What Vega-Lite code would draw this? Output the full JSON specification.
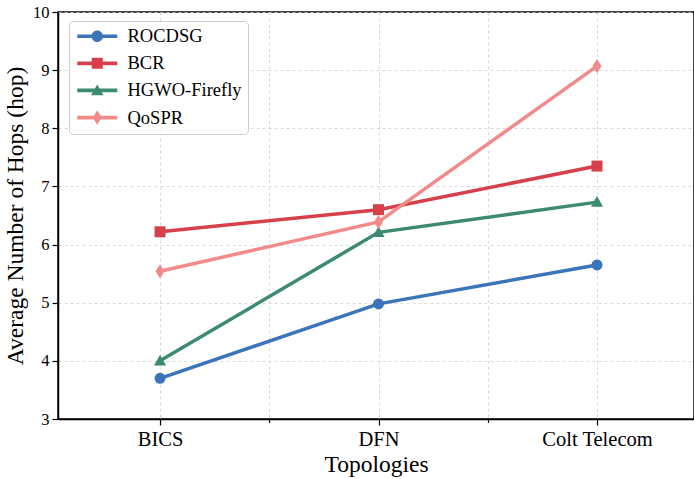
{
  "$schema": "https://vega.github.io/schema/vega-lite/v6.json",
  "width": 636,
  "height": 407,
  "autosize": {"type": "none"},
  "padding": {"left": 58, "top": 12, "right": 0, "bottom": 60},
  "background": "white",
  "config": {
    "font": "Liberation Serif",
    "view": {"stroke": "black", "strokeWidth": 1.5},
    "axis": {
      "domainColor": "black", "domainWidth": 1.5,
      "tickColor": "black", "tickWidth": 1.2,
      "labelColor": "black", "titleColor": "black", "titleFontWeight": "normal",
      "gridColor": "#d0d0d0", "gridDash": [3, 3], "gridWidth": 0.8,
      "labelFont": "Liberation Serif", "titleFont": "Liberation Serif"
    },
    "legend": {
      "labelFont": "Liberation Serif", "labelFontSize": 18.5, "labelColor": "black",
      "padding": 6, "rowPadding": 8.1, "symbolOffset": 13, "labelOffset": 21,
      "strokeColor": "#cccccc", "fillColor": "rgba(255,255,255,0.85)", "cornerRadius": 4,
      "symbolStrokeWidth": 0, "symbolSize": 100
    }
  },
  "data": {
    "values": [
      {"method": "ROCDSG", "topology": "BICS", "idx": 0, "hops": 3.70},
      {"method": "ROCDSG", "topology": "DFN", "idx": 1, "hops": 4.98},
      {"method": "ROCDSG", "topology": "Colt Telecom", "idx": 2, "hops": 5.65},
      {"method": "BCR", "topology": "BICS", "idx": 0, "hops": 6.22},
      {"method": "BCR", "topology": "DFN", "idx": 1, "hops": 6.60},
      {"method": "BCR", "topology": "Colt Telecom", "idx": 2, "hops": 7.35},
      {"method": "HGWO-Firefly", "topology": "BICS", "idx": 0, "hops": 4.00},
      {"method": "HGWO-Firefly", "topology": "DFN", "idx": 1, "hops": 6.21},
      {"method": "HGWO-Firefly", "topology": "Colt Telecom", "idx": 2, "hops": 6.73},
      {"method": "QoSPR", "topology": "BICS", "idx": 0, "hops": 5.54},
      {"method": "QoSPR", "topology": "DFN", "idx": 1, "hops": 6.39},
      {"method": "QoSPR", "topology": "Colt Telecom", "idx": 2, "hops": 9.07}
    ]
  },
  "layer": [
    {
      "mark": {"type": "line", "strokeWidth": 3.5},
      "encoding": {
        "x": {
          "field": "idx", "type": "quantitative",
          "scale": {"domain": [-0.467, 2.444], "nice": false, "zero": false},
          "axis": {
            "values": [0, 0.5, 1, 1.5, 2],
            "labelExpr": "datum.value == 0 ? 'BICS' : datum.value == 1 ? 'DFN' : datum.value == 2 ? 'Colt Telecom' : ''",
            "tickSize": {"expr": "datum.value % 1 == 0 ? 6 : 3.5"},
            "labelFont": "Liberation Serif", "labelFontSize": 20.5, "labelPadding": 4,
            "title": "Topologies", "titleFontSize": 23.5, "titlePadding": 3,
            "grid": true
          }
        },
        "y": {
          "field": "hops", "type": "quantitative",
          "scale": {"domain": [3, 10], "nice": false, "zero": false},
          "axis": {
            "values": [3, 4, 5, 6, 7, 8, 9, 10], "format": "d",
            "tickSize": 6, "labelFont": "Liberation Serif", "labelFontSize": 16.5, "labelPadding": 3,
            "title": "Average Number of Hops (hop)", "titleFontSize": 23.5, "titlePadding": 5,
            "grid": true
          }
        },
        "color": {
          "field": "method", "type": "nominal",
          "scale": {"domain": ["ROCDSG", "BCR", "HGWO-Firefly", "QoSPR"], "range": ["#3b74b8", "#d7404a", "#3d8a72", "#f28a8a"]},
          "legend": null
        }
      }
    },
    {
      "mark": {"type": "point", "filled": true, "opacity": 1, "size": 121},
      "encoding": {
        "x": {"field": "idx", "type": "quantitative"},
        "y": {"field": "hops", "type": "quantitative"},
        "color": {
          "field": "method", "type": "nominal",
          "scale": {"domain": ["ROCDSG", "BCR", "HGWO-Firefly", "QoSPR"], "range": ["#3b74b8", "#d7404a", "#3d8a72", "#f28a8a"]},
          "legend": null
        },
        "shape": {
          "field": "method", "type": "nominal",
          "scale": {"domain": ["ROCDSG", "BCR", "HGWO-Firefly", "QoSPR"], "range": ["circle", "square", "M0,-1.1L1.1,0.85H-1.1Z", "M0,-1.3L0.82,0L0,1.3L-0.82,0Z"]},
          "legend": null
        }
      }
    },
    {
      "transform": [{"filter": "false"}],
      "mark": {"type": "point", "filled": true, "opacity": 1, "size": 100},
      "encoding": {
        "color": {
          "field": "method", "type": "nominal",
          "scale": {"domain": ["ROCDSG", "BCR", "HGWO-Firefly", "QoSPR"], "range": ["#3b74b8", "#d7404a", "#3d8a72", "#f28a8a"]},
          "legend": {"title": null, "orient": "none", "legendX": 11, "legendY": 9}
        },
        "shape": {
          "field": "method", "type": "nominal",
          "scale": {"domain": ["ROCDSG", "BCR", "HGWO-Firefly", "QoSPR"], "range": [
            "M-4,-0.37H4V0.37H-4Z M-1.15,0A1.15,1.15 0 1,1 1.15,0A1.15,1.15 0 1,1 -1.15,0Z",
            "M-4,-0.37H4V0.37H-4Z M-1.1,-1.1H1.1V1.1H-1.1Z",
            "M-4,-0.37H4V0.37H-4Z M0,-1.2L1.25,0.95H-1.25Z",
            "M-4,-0.37H4V0.37H-4Z M0,-1.45L0.9,0L0,1.45L-0.9,0Z"
          ]},
          "legend": {"title": null, "orient": "none", "legendX": 11, "legendY": 9}
        }
      }
    }
  ],
  "resolve": {"scale": {"color": "independent", "shape": "independent"}}
}
